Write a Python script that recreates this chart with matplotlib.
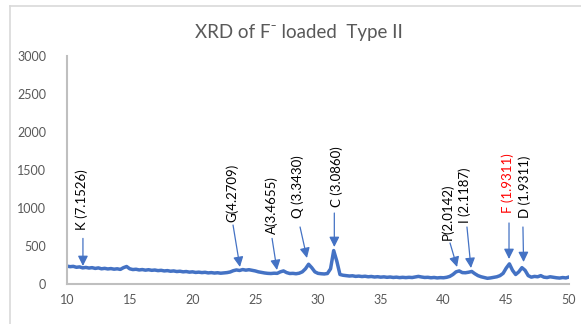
import matplotlib
import numpy as np

matplotlib.use("Agg", force=True)
import matplotlib.pyplot as plt
from matplotlib.lines import Line2D

plt.rcParams["font.family"] = ["Lato", "DejaVu Sans"]

# 2-theta grid 10..50 in 0.25 steps, intensities
two_theta = np.arange(10, 50.001, 0.25)
intensity = [
    235, 228, 232, 220, 225, 212, 218, 210, 215, 205, 212, 200, 206, 198, 203, 195,
    200, 192, 215, 230, 200, 190, 194, 185, 190, 182, 188, 180, 184, 176, 180, 172,
    176, 168, 172, 164, 168, 160, 164, 156, 160, 152, 156, 150, 154, 146, 150, 144,
    148, 142, 146, 150, 158, 175, 185, 178, 190, 182, 188, 180, 172, 160, 152, 145,
    140, 138, 142, 140, 160, 172, 150, 138, 140, 135, 142, 160, 200, 260, 215, 160,
    140, 135, 132, 138, 200, 440, 300, 125, 115, 110, 105, 108, 100, 104, 98, 102,
    95, 99, 92, 96, 90, 94, 88, 92, 86, 90, 84, 88, 84, 88, 85, 92,
    100, 92, 86, 88, 82, 86, 80, 84, 82, 88, 100, 125, 160, 172, 150, 148,
    155, 165, 135, 110, 95, 85, 75, 80, 88, 95, 110, 140, 210, 265, 180, 125,
    160, 215, 180, 110, 90, 100, 95, 110, 90, 85, 95, 88, 82, 78, 85, 80,
    92,
]

# peak labels: text, text x, text bottom y, arrow tail (x, y), arrow head (x, y), colour
peak_labels = ["K (7.1526)", "G(4.2709)", "A(3.4655)", "Q (3.3430)", "C (3.0860)",
               "P(2.0142)", "I (2.1187)", "F (1.9311)", "D (1.9311)"]
label_x = [11.2, 23.15, 26.33, 28.4, 31.5, 40.28, 41.71, 45.14, 46.49]
label_y = [711, 816, 658, 868, 1013, 579, 803, 934, 868]
tail_xy = [(11.27, 600), (23.23, 776), (26.34, 600), (28.57, 750), (31.3, 934),
           (40.52, 540), (41.87, 750), (45.22, 803), (46.33, 750)]
head_xy = [(11.27, 237), (23.78, 224), (26.73, 184), (29.12, 342), (31.3, 487),
           (41.08, 224), (42.19, 210), (45.22, 329), (46.38, 289)]
label_colors = ["black"] * 7 + ["#FF0000", "black"]

fig = plt.figure(figsize=(5.81, 3.24), dpi=100)
ax = fig.add_axes([67 / 581, 40 / 324, 502 / 581, 228 / 324])

ax.plot(two_theta, intensity, color="#4472C4", linewidth=2.5, solid_joinstyle="round")

for text, tx, ty, tail, head, col in zip(peak_labels, label_x, label_y, tail_xy, head_xy, label_colors):
    ax.annotate("", xy=head, xytext=tail,
                arrowprops=dict(arrowstyle="-|>,head_length=0.6,head_width=0.3",
                                color="#4472C4", lw=0.9, shrinkA=0, shrinkB=0))
    ax.text(tx, ty, text, rotation=90, ha="center", va="bottom", fontsize=9.5, color=col)

ax.set_xlim(10, 50)
ax.set_ylim(0, 3000)
ax.set_xticks(range(10, 51, 5))
ax.set_yticks(range(0, 3001, 500))
ax.tick_params(axis="both", length=0, labelsize=9, labelcolor="#595959")
ax.tick_params(axis="y", pad=15)
ax.tick_params(axis="x", pad=7)
for side in ["top", "right"]:
    ax.spines[side].set_visible(False)
for side in ["left", "bottom"]:
    ax.spines[side].set_color("#BFBFBF")
    ax.spines[side].set_linewidth(1.5)

fig.text(0.515, 0.90, "XRD of F\u207b loaded  Type II", ha="center", va="center",
         fontsize=13.5, color="#595959")

# chart area border (only left and top show in the crop)
fig.add_artist(Line2D([10 / 581, 10 / 581], [0, 1 - 6 / 324], color="#D9D9D9", lw=1.2))
fig.add_artist(Line2D([10 / 581, 1], [1 - 6 / 324, 1 - 6 / 324], color="#D9D9D9", lw=1.2))

fig.savefig("out.png", dpi=100)
